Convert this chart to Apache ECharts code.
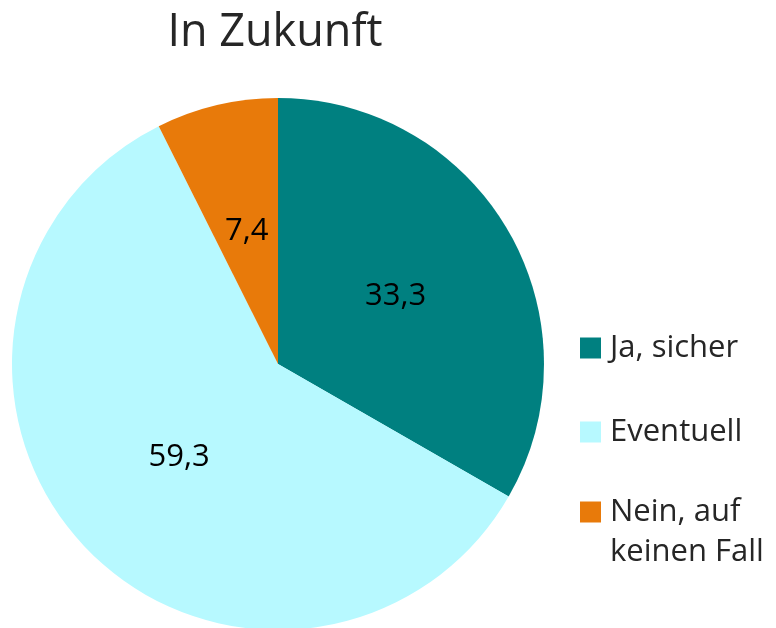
<!DOCTYPE html>
<html>
<head>
<meta charset="utf-8">
<script src="https://cdn.jsdelivr.net/npm/echarts@6/dist/echarts.min.js"></script>
<style>
  html, body { margin: 0; padding: 0; background: #fff; }
  #main { width: 776px; height: 628px; }
</style>
</head>
<body>
<div id="main"></div>
<script>
const categories = ['Ja, sicher', 'Eventuell', 'Nein, auf keinen Fall'];
const values = [33.3, 59.3, 7.4];
const colors = ['#008080', '#B7F9FF', '#E87A0A'];

const chart = echarts.init(document.getElementById('main'));

const font = '"Open Sans", "Noto Sans", sans-serif';
const legendText = {
  fontFamily: font,
  fontSize: 31,
  color: '#262626',
  lineHeight: 40,
  padding: [0, 0, 0, 4]
};

// one legend per item so the two-line entry can sit where it does in the original
const legendTops = [328, 412, 452];
const legends = categories.map((name, i) => ({
  data: [name],
  left: 580,
  top: legendTops[i],
  padding: 0,
  orient: 'vertical',
  icon: 'rect',
  itemWidth: 21,
  itemHeight: 21,
  itemGap: 0,
  selectedMode: false,
  textStyle: legendText,
  formatter: n => (n === 'Nein, auf keinen Fall' ? '\nNein, auf\nkeinen Fall' : n)
}));

const option = {
  animation: false,
  title: {
    text: 'In Zukunft',
    left: 275,
    top: 11,
    padding: 0,
    textAlign: 'center',
    textStyle: { fontFamily: font, fontSize: 45, fontWeight: 'normal', color: '#262626' }
  },
  legend: legends,
  series: [
    {
      type: 'pie',
      center: [278, 364],
      radius: 266,
      startAngle: 90,
      clockwise: true,
      color: colors,
      itemStyle: { borderWidth: 0 },
      label: {
        position: 'inside',
        fontFamily: font,
        fontSize: 31,
        color: '#000',
        formatter: p => String(p.value).replace('.', ',')
      },
      labelLine: { show: false },
      emphasis: { disabled: true },
      data: categories.map((c, i) => ({ name: c, value: values[i] }))
    }
  ]
};

chart.setOption(option);
</script>
</body>
</html>
